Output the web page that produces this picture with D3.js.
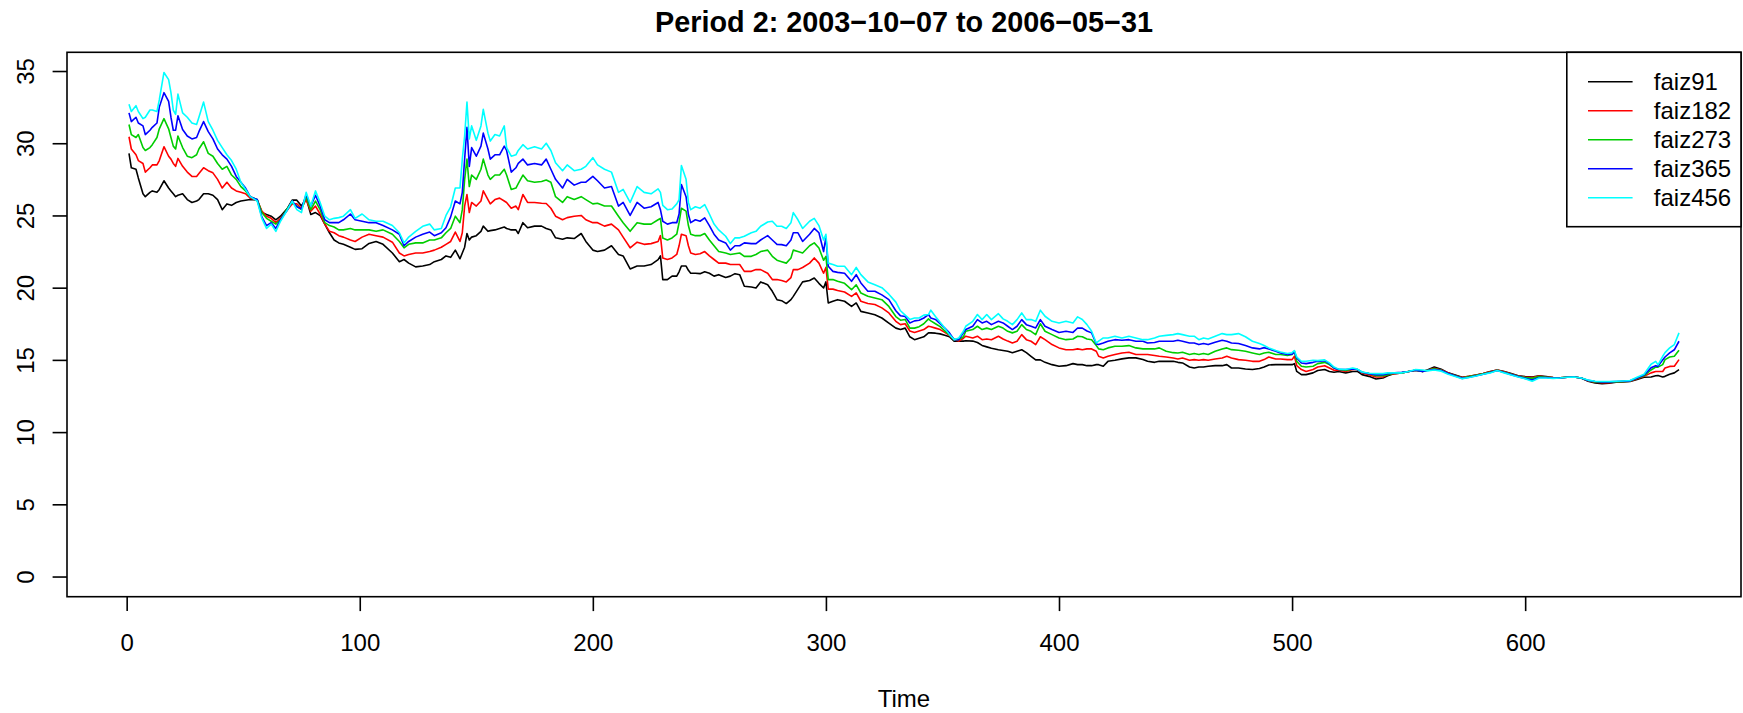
<!DOCTYPE html>
<html>
<head>
<meta charset="utf-8">
<script src="https://cdn.jsdelivr.net/npm/d3@7"></script>
<style>
body { margin: 0; background: #fff; }
text { font-family: "Liberation Sans", Arial, Helvetica, sans-serif; fill: #000; }
</style>
</head>
<body>
<div id="chart"></div>
<script>
const timeIdx = [
  1,2,4,5,7,8,10,11,13,14,16,18,19,20,21,22,24,26,28,30,31,33,35,37,39,41,43,45,47,49,
  51,53,56,58,60,62,64,66,69,71,73,75,77,79,81,83,85,87,89,91,93,96,98,101,104,107,110,
  114,117,119,121,124,127,130,132,135,137,139,141,143,144,145,146,147,148,150,152,
  153,155,156,158,160,162,163,165,167,168,170,172,175,178,180,182,184,187,189,192,
  195,197,200,202,205,208,211,213,216,219,222,
  225,228,229,230,232,234,236,237,238,240,241,242,244,246,248,250,252,254,257,259,
  261,263,265,268,270,272,275,277,279,281,283,285,286,288,290,293,295,297,299,300,
  301,303,305,308,311,313,315,318,321,324,327,330,332,334,
  336,338,340,342,344,345,347,349,351,353,355,357,359,360,363,365,367,369,371,374,
  376,378,380,382,384,386,388,390,392,394,397,400,403,406,408,410,412,414,416,417,
  419,421,424,427,430,433,436,438,441,443,446,
  449,451,453,456,458,460,462,464,467,470,472,474,477,480,483,486,488,490,493,495,
  498,500,501,502,504,506,509,511,514,516,518,520,523,526,528,530,533,536,539,541,
  544,547,550,553,556,
  558,561,564,567,570,573,576,579,582,585,588,591,594,597,600,603,606,609,612,615,
  618,621,624,627,630,633,636,639,642,645,648,651,654,656,657,659,660,662,664,666
];

const faiz91 = [
  29.3,28.3,28.2,27.6,26.5,26.3,26.6,26.7,26.6,26.8,27.4,26.9,26.7,26.5,26.3,26.4,26.5,26.1,25.9,26.0,
  26.1,26.5,26.5,26.4,26.1,25.4,25.8,25.7,25.9,26.0,26.05,26.1,26.06,25.2,25.07,24.95,24.7,24.95,25.5,26.06,
  26.06,25.65,26.2,25.07,25.2,25.0,24.4,23.8,23.3,23.1,23.0,22.8,22.65,22.7,23.06,23.2,23.0,
  22.4,21.8,21.95,21.7,21.44,21.5,21.6,21.8,21.95,22.2,22.1,22.6,22.0,22.4,22.8,23.75,23.3,23.5,23.6,23.9,
  24.26,23.9,23.95,24.0,24.1,24.2,24.1,24.0,24.0,23.75,24.5,24.15,24.26,24.26,24.1,24.0,23.45,23.35,23.45,23.4,
  23.75,23.2,22.6,22.5,22.6,22.9,22.3,22.2,21.3,21.5,21.5,
  21.6,21.94,22.2,20.56,20.56,20.8,20.8,21.1,21.5,21.5,21.2,21.0,21.0,20.97,21.1,21.0,20.8,20.9,20.7,20.8,
  20.97,20.9,20.1,20.05,19.98,20.4,20.2,19.75,19.17,19.1,18.9,19.17,19.4,19.9,20.4,20.5,20.67,20.3,19.98,20.4,
  18.94,19.06,19.17,19.06,18.7,18.94,18.36,18.25,18.13,17.9,17.55,17.2,17.1,17.2,
  16.6,16.4,16.5,16.6,16.87,16.87,16.85,16.8,16.7,16.6,16.3,16.3,16.3,16.33,16.3,16.2,16.0,15.9,15.8,15.7,
  15.65,15.6,15.5,15.6,15.7,15.5,15.25,15.0,15.0,14.83,14.67,14.56,14.6,14.74,14.67,14.67,14.6,14.6,14.67,14.67,
  14.56,14.9,14.97,15.07,15.14,15.14,15.02,14.9,14.83,14.9,14.9,
  14.9,14.83,14.79,14.51,14.44,14.51,14.51,14.56,14.6,14.6,14.67,14.44,14.44,14.37,14.33,14.4,14.51,14.65,14.67,14.67,
  14.67,14.67,14.74,14.2,13.98,13.98,14.1,14.26,14.33,14.2,14.14,14.2,14.1,14.2,14.2,13.98,13.86,13.68,13.75,13.9,
  14.05,14.1,14.2,14.28,14.2,
  14.3,14.5,14.35,14.1,13.95,13.8,13.86,13.95,14.05,14.2,14.3,14.2,14.05,13.9,13.85,13.82,13.9,13.84,13.78,13.76,
  13.8,13.82,13.75,13.52,13.4,13.35,13.38,13.45,13.48,13.5,13.65,13.8,13.82,13.9,13.92,13.82,13.86,14.0,14.1,14.33
];

const faiz182 = [
  30.45,29.6,29.2,28.8,28.6,28.0,28.3,28.5,28.5,28.8,29.76,29.1,28.9,28.6,28.4,28.95,28.4,28.0,27.7,27.7,
  27.9,28.3,28.1,27.95,27.5,26.9,27.3,26.9,26.7,26.6,26.5,26.2,26.06,25.3,24.95,24.8,24.5,24.8,25.4,25.8,
  25.8,25.5,26.1,25.3,25.65,25.1,24.4,23.9,23.8,23.6,23.5,23.3,23.2,23.5,23.7,23.6,23.5,
  23.15,22.4,22.2,22.3,22.4,22.4,22.5,22.6,22.8,23.0,23.2,23.85,23.2,23.8,25.65,26.45,25.2,25.9,25.65,26.0,
  26.7,26.1,25.8,26.1,26.2,26.0,25.9,25.5,25.65,25.4,26.45,25.9,25.9,25.85,25.83,25.5,24.95,24.7,24.85,24.95,
  25.0,24.7,24.5,24.5,24.26,24.4,24.0,23.5,22.76,23.15,23.0,
  23.05,23.2,23.6,22.06,21.95,22.06,22.3,22.9,23.7,23.6,22.9,22.4,22.3,22.35,22.5,22.2,21.95,21.7,21.7,21.6,
  21.6,21.6,21.13,21.13,21.25,21.25,21.0,20.56,20.56,20.5,20.4,20.7,21.25,21.25,21.4,21.7,22.06,21.7,21.0,21.4,
  19.9,19.9,19.8,19.7,19.4,19.64,19.06,18.9,18.83,18.6,18.25,17.67,17.44,17.5,
  17.0,16.9,17.0,17.1,17.33,17.3,17.2,17.1,16.9,16.7,16.4,16.3,16.5,16.64,16.52,16.64,16.4,16.45,16.4,16.64,
  16.45,16.3,16.17,16.29,16.75,16.4,16.29,16.06,16.6,16.4,16.06,15.83,15.7,15.7,15.76,15.7,15.76,15.76,15.6,15.25,
  15.13,15.25,15.37,15.48,15.53,15.37,15.37,15.37,15.3,15.25,15.2,
  15.13,15.06,15.13,14.97,15.02,14.97,15.02,14.97,15.06,15.13,15.25,15.13,15.02,14.97,14.9,14.9,15.02,15.2,15.06,15.06,
  15.02,15.02,15.25,14.6,14.33,14.2,14.33,14.51,14.6,14.44,14.28,14.28,14.2,14.33,14.33,14.1,13.98,13.82,13.82,13.98,
  14.05,14.1,14.2,14.28,14.2,
  14.28,14.42,14.3,14.1,13.9,13.78,13.86,13.95,14.05,14.18,14.3,14.18,14.03,13.88,13.82,13.78,13.88,13.82,13.78,13.76,
  13.8,13.82,13.75,13.55,13.45,13.42,13.42,13.47,13.5,13.52,13.7,13.86,14.1,14.2,14.2,14.2,14.44,14.55,14.56,15.02
];

const faiz273 = [
  31.3,30.6,30.4,30.6,29.7,29.5,29.7,29.9,30.4,31.0,31.7,31.0,30.4,29.8,29.6,30.5,29.7,29.1,29.0,29.2,
  29.6,30.1,29.3,29.1,28.6,28.2,28.4,27.8,27.5,27.0,26.7,26.3,26.1,25.2,24.8,24.6,24.4,24.7,25.5,25.9,
  25.65,25.4,26.3,25.4,26.0,25.4,24.5,24.3,24.2,24.0,24.0,24.1,24.0,24.0,24.0,23.9,24.0,
  23.7,23.2,22.76,23.0,23.1,23.1,23.3,23.3,23.45,23.8,24.1,24.95,24.5,25.4,27.5,28.9,27.0,27.8,27.5,28.2,
  28.9,27.8,27.5,27.8,27.8,28.2,27.8,26.8,26.9,27.2,27.8,27.4,27.3,27.35,27.45,27.3,26.3,25.9,26.3,26.1,
  26.3,26.1,25.8,25.85,25.65,25.65,24.95,24.5,23.9,24.5,24.4,
  24.4,24.7,24.8,23.44,23.3,23.44,23.7,24.5,25.5,25.3,24.3,23.7,23.6,23.6,23.75,23.3,22.9,22.5,22.4,22.3,
  22.35,22.4,22.17,22.17,22.3,22.5,22.6,22.17,21.9,21.8,21.7,22.06,22.6,22.5,22.4,22.9,23.1,22.75,21.9,22.17,
  20.56,20.56,20.44,20.3,19.86,20.2,19.63,19.4,19.28,19.17,18.7,18.0,17.75,17.8,
  17.2,17.2,17.3,17.5,17.84,17.7,17.5,17.3,17.0,16.75,16.4,16.4,16.6,16.98,17.1,17.33,17.1,17.2,17.1,17.33,
  17.2,16.98,16.87,16.98,17.44,17.1,16.98,16.75,17.5,16.98,16.75,16.52,16.4,16.45,16.64,16.6,16.45,16.4,16.0,15.76,
  15.7,15.83,15.94,15.94,15.99,15.83,15.76,15.76,15.76,15.83,15.6,
  15.5,15.48,15.53,15.37,15.44,15.37,15.44,15.37,15.6,15.76,15.83,15.71,15.67,15.6,15.48,15.37,15.48,15.53,15.37,15.37,
  15.3,15.37,15.6,14.9,14.56,14.51,14.56,14.74,14.83,14.67,14.44,14.33,14.26,14.37,14.33,14.14,14.05,13.9,13.9,13.98,
  14.1,14.1,14.2,14.28,14.2,
  14.28,14.38,14.28,14.05,13.9,13.75,13.84,13.93,14.03,14.15,14.28,14.15,14.0,13.86,13.78,13.72,13.84,13.8,13.76,13.76,
  13.8,13.82,13.75,13.57,13.48,13.45,13.45,13.48,13.5,13.53,13.72,13.9,14.3,14.5,14.5,14.67,15.02,15.2,15.25,15.67
];

const faiz365 = [
  32.1,31.5,31.8,31.4,31.2,30.6,30.9,31.1,31.4,32.5,33.5,32.9,31.8,30.9,30.9,31.9,30.95,30.5,30.3,30.4,
  30.8,31.5,30.8,30.3,29.6,29.2,28.9,28.4,27.7,27.3,26.9,26.3,26.1,24.9,24.3,24.5,24.1,24.7,25.4,26.0,
  25.6,25.45,26.45,25.65,26.4,25.65,24.7,24.5,24.5,24.5,24.7,25.1,24.7,24.6,24.5,24.5,24.3,
  24.0,23.7,22.9,23.2,23.5,23.7,23.85,23.6,23.8,24.15,24.9,26.0,25.8,26.6,28.9,31.1,28.4,29.7,29.1,29.8,
  30.7,29.6,28.9,29.2,29.2,29.8,29.5,28.0,28.3,28.6,28.9,28.5,28.6,28.5,28.9,28.2,27.5,26.9,27.5,27.1,
  27.3,27.3,27.7,27.4,26.9,27.0,25.65,25.9,25.0,25.9,25.5,
  25.6,25.9,25.4,24.6,24.4,24.5,24.5,25.1,27.14,26.3,25.06,24.5,24.7,24.6,24.83,24.3,23.7,23.3,23.1,22.6,
  22.9,22.9,23.1,23.05,23.05,23.3,23.6,23.3,23.0,22.98,22.9,23.3,23.8,23.8,23.2,23.7,24.1,23.8,22.5,23.5,
  21.48,21.13,21.06,21.0,20.44,20.9,20.33,19.75,19.75,19.5,19.17,18.4,18.05,18.0,
  17.56,17.7,17.75,17.9,18.14,17.9,17.8,17.5,17.2,16.87,16.4,16.4,16.87,17.1,17.33,17.79,17.56,17.67,17.44,17.67,
  17.56,17.33,17.1,17.33,17.79,17.44,17.33,17.21,17.79,17.33,17.1,16.9,16.98,16.9,17.21,17.2,17.0,16.87,16.1,16.06,
  16.17,16.29,16.4,16.36,16.4,16.29,16.29,16.17,16.2,16.29,16.29,
  16.29,16.36,16.29,16.17,16.17,16.06,16.13,16.06,16.22,16.36,16.29,16.17,16.13,15.99,15.83,15.76,15.85,15.76,15.6,15.48,
  15.37,15.4,15.55,15.13,14.79,14.74,14.83,14.9,14.95,14.74,14.44,14.33,14.33,14.37,14.33,14.14,14.05,13.98,13.98,14.05,
  14.1,14.14,14.2,14.28,14.2,
  14.26,14.33,14.26,14.05,13.88,13.72,13.8,13.9,14.0,14.12,14.26,14.12,13.98,13.84,13.72,13.6,13.78,13.78,13.74,13.75,
  13.8,13.82,13.75,13.58,13.5,13.48,13.48,13.5,13.52,13.55,13.75,13.95,14.45,14.6,14.55,15.0,15.2,15.48,15.7,16.29
];

const faiz456 = [
  32.7,32.2,32.6,32.2,31.7,31.8,32.3,32.3,32.2,33.0,34.9,34.4,33.5,32.3,32.0,33.4,32.1,31.8,31.4,31.3,
  31.8,32.85,31.5,30.9,30.2,29.7,29.2,28.8,28.2,27.3,26.8,26.3,26.0,24.8,24.1,24.4,23.9,24.6,25.4,26.0,
  25.4,25.2,26.6,25.65,26.7,25.9,24.95,24.7,24.8,24.85,24.95,25.4,24.8,25.1,24.7,24.6,24.6,
  24.3,23.8,23.1,23.5,23.9,24.25,24.4,24.0,24.1,25.0,25.6,26.9,26.9,28.9,30.5,32.85,30.3,31.2,30.2,31.2,
  32.35,30.7,30.15,30.6,30.5,31.2,29.7,29.1,29.2,29.5,29.9,29.6,29.75,29.6,30.0,29.5,28.65,28.1,28.5,28.1,
  28.2,28.4,29.0,28.5,28.2,28.0,26.6,26.8,25.9,27.0,26.6,
  26.5,26.84,26.6,25.7,25.4,25.45,25.8,26.1,28.46,27.5,25.9,25.4,25.6,25.5,25.75,25.1,24.4,24.0,23.56,23.05,
  23.45,23.45,23.56,23.8,23.9,24.25,24.55,24.6,24.25,24.25,24.1,24.5,25.2,24.7,24.1,24.6,24.8,24.3,23.3,23.7,
  21.7,21.6,21.48,21.48,20.9,21.4,20.9,20.4,20.2,20.0,19.55,19.0,18.4,18.1,
  17.8,17.9,17.9,18.1,18.14,18.44,18.0,17.6,17.2,16.75,16.4,16.52,16.98,17.33,17.67,18.14,17.79,18.14,17.79,18.2,
  17.84,17.67,17.44,17.79,18.25,17.79,17.79,17.67,18.44,18.02,17.67,17.56,17.67,17.56,17.98,17.8,17.44,16.98,16.17,16.3,
  16.52,16.52,16.64,16.52,16.64,16.52,16.4,16.4,16.52,16.64,16.7,
  16.75,16.82,16.75,16.64,16.64,16.4,16.52,16.45,16.64,16.82,16.75,16.75,16.82,16.6,16.29,16.13,16.0,15.83,15.65,15.55,
  15.44,15.5,15.65,15.2,14.9,14.9,14.97,14.95,15.0,14.79,14.5,14.36,14.33,14.44,14.36,14.16,14.07,14.05,14.05,14.1,
  14.1,14.1,14.2,14.33,14.3,
  14.24,14.3,14.22,14.0,13.85,13.7,13.78,13.88,14.0,14.1,14.26,14.1,13.96,13.82,13.7,13.52,13.75,13.75,13.72,13.75,
  13.8,13.82,13.75,13.6,13.52,13.5,13.5,13.52,13.54,13.57,13.8,14.0,14.7,14.9,14.65,15.25,15.5,15.83,16.06,16.87
];

const seriesNames = ["faiz91", "faiz182", "faiz273", "faiz365", "faiz456"];
const seriesColors = ["#000000", "#ff0000", "#00cd00", "#0000ff", "#00ffff"];
const xTicks = [0, 100, 200, 300, 400, 500, 600];
const yTicks = [0, 5, 10, 15, 20, 25, 30, 35];
const chartTitle = "Period 2: 2003\u221210\u221207 to 2006\u221205\u221231";
const xLabel = "Time";

function drawChart() {
    var width = 1743;
    var height = 713;
    var plot = {left: 67, right: 1741, top: 52.3, bottom: 596.7};
    var tickLen = 14.4;
    var allSeries = [faiz91, faiz182, faiz273, faiz365, faiz456];

    // R style axis limits: data range padded by 4% each side
    var xMin = d3.min(timeIdx), xMax = d3.max(timeIdx);
    var xPad = (xMax - xMin) * 0.04;
    var yMax = d3.max(allSeries, s => d3.max(s));
    var yPad = yMax * 0.04;

    var x = d3.scaleLinear().domain([xMin - xPad, xMax + xPad]).range([plot.left, plot.right]);
    var y = d3.scaleLinear().domain([0 - yPad, yMax + yPad]).range([plot.bottom, plot.top]);

    var svg = d3.select("#chart")
        .append("svg")
        .attr("width", width)
        .attr("height", height)
        .style("display", "block");

    svg.append("rect")
        .attr("width", width)
        .attr("height", height)
        .attr("fill", "#fff");

    // series, drawn in order so cyan ends on top
    var line = d3.line()
        .x((d, i) => x(timeIdx[i]))
        .y(d => y(d));

    allSeries.forEach(function (s, k) {
        svg.append("path")
            .datum(s)
            .attr("d", line)
            .attr("fill", "none")
            .attr("stroke", seriesColors[k])
            .attr("stroke-width", 1.6)
            .attr("stroke-linejoin", "round");
    });

    // x axis
    var xAxis = svg.append("g")
        .attr("transform", `translate(0,${plot.bottom})`)
        .call(d3.axisBottom(x).tickValues(xTicks).tickSize(tickLen).tickFormat(d3.format("d")));
    xAxis.select(".domain").remove();
    xAxis.selectAll("line").attr("stroke", "#000").attr("stroke-width", 1.6);
    xAxis.selectAll("text")
        .attr("y", 54)
        .attr("dy", 0)
        .style("font-size", "24px")
        .style("font-family", "'Liberation Sans', Arial, sans-serif")
        .attr("fill", "#000");

    // y axis, labels turned like R's las = 0
    var yAxis = svg.append("g")
        .attr("transform", `translate(${plot.left},0)`)
        .call(d3.axisLeft(y).tickValues(yTicks).tickSize(tickLen));
    yAxis.select(".domain").remove();
    yAxis.selectAll("line").attr("stroke", "#000").attr("stroke-width", 1.6);
    yAxis.selectAll("text")
        .attr("x", 0)
        .attr("y", -33.3)
        .attr("dy", 0)
        .attr("transform", "rotate(-90)")
        .attr("text-anchor", "middle")
        .style("font-size", "24px")
        .style("font-family", "'Liberation Sans', Arial, sans-serif")
        .attr("fill", "#000");

    // plot box
    svg.append("rect")
        .attr("x", plot.left)
        .attr("y", plot.top)
        .attr("width", plot.right - plot.left)
        .attr("height", plot.bottom - plot.top)
        .attr("fill", "none")
        .attr("stroke", "#000")
        .attr("stroke-width", 1.6);

    svg.append("text")
        .attr("x", (plot.left + plot.right) / 2)
        .attr("y", 31.7)
        .attr("text-anchor", "middle")
        .style("font-size", "28.8px")
        .style("font-weight", "bold")
        .text(chartTitle);

    svg.append("text")
        .attr("x", (plot.left + plot.right) / 2)
        .attr("y", 707)
        .attr("text-anchor", "middle")
        .style("font-size", "24px")
        .text(xLabel);

    // legend in the top right corner
    var legend = svg.append("g");
    legend.append("rect")
        .attr("x", 1566.8)
        .attr("y", plot.top)
        .attr("width", plot.right - 1566.8)
        .attr("height", 174.4)
        .attr("fill", "#fff")
        .attr("stroke", "#000")
        .attr("stroke-width", 1.6);

    legend.selectAll("line.key")
        .data(seriesNames)
        .enter()
        .append("line")
        .attr("class", "key")
        .attr("x1", 1588)
        .attr("x2", 1632.6)
        .attr("y1", (d, i) => 81.7 + i * 29)
        .attr("y2", (d, i) => 81.7 + i * 29)
        .attr("stroke", (d, i) => seriesColors[i])
        .attr("stroke-width", 1.6);

    legend.selectAll("text")
        .data(seriesNames)
        .enter()
        .append("text")
        .attr("x", 1653.8)
        .attr("y", (d, i) => 81.7 + i * 29 + 8.6)
        .style("font-size", "24px")
        .text(d => d);
}

drawChart()
</script>
</body>
</html>
